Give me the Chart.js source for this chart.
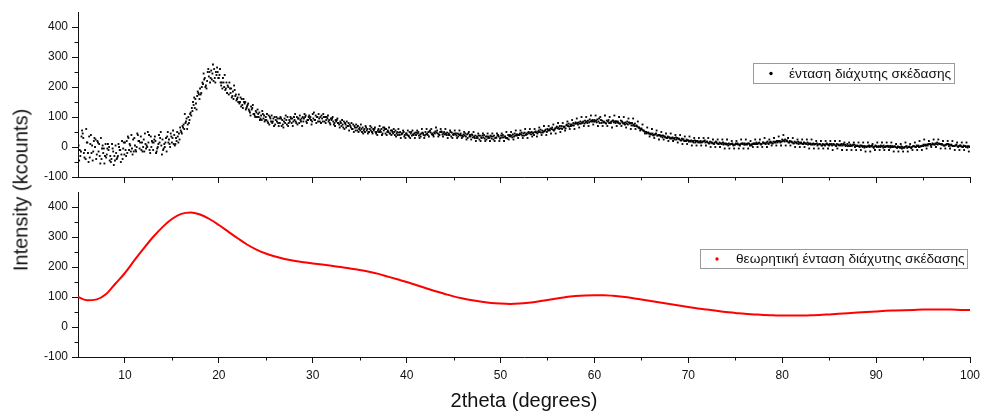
<!DOCTYPE html>
<html>
<head>
<meta charset="utf-8">
<script src="https://cdn.jsdelivr.net/npm/chart.js@4.4.0/dist/chart.umd.min.js"></script>
<style>
html,body{margin:0;padding:0;background:#fff;}
#wrap{position:relative;width:981px;height:411px;overflow:hidden;font-family:"Liberation Sans",Arial,sans-serif;color:#111;}
#c1box{position:absolute;left:0;top:0;width:981px;height:192px;}
#c2box{position:absolute;left:0;top:185px;width:981px;height:226px;}
canvas{display:block;}
#ytitle{position:absolute;left:21px;top:190px;transform:translate(-50%,-50%) rotate(-90deg);font-size:20px;white-space:nowrap;}
#xtitle{position:absolute;left:524px;top:400px;transform:translate(-50%,-50%);font-size:20px;white-space:nowrap;}
</style>
</head>
<body>
<div id="wrap">
  <div id="c1box"><canvas id="c1" width="981" height="192"></canvas></div>
  <div id="c2box"><canvas id="c2" width="981" height="226"></canvas></div>
  <div id="ytitle">Intensity (kcounts)</div>
  <div id="xtitle">2theta (degrees)</div>
</div>
<script>
// ---------------- DATA ----------------
const seriesLabels = ["ένταση διάχυτης σκέδασης", "θεωρητική ένταση διάχυτης σκέδασης"];

// measured diffuse-scattering intensity (kcounts), four interleaved reads, step 0.25 each
const scanStep = 0.25;
const scanAStart = 5.0;
const scanA = [
 20,-30,45,-10, 15,-35,5,30, -25,10,-40,-5, -35,-10,-50,-15, 5,-30,-10,-40,
 15,-20,10,-5, 30,0,20,-10, 25,-5,15,35, -10,20,0,30, 25,0,35,10,
 15,40,20,45, 50,75,85,100, 115,150,160,185, 195,215,230,220, 250,225,260,240,
 230,205,215,195, 200,180,185,170, 165,150,140,145, 135,120,125,110, 115,100,105,95,
 100,80,95,85, 75,95,80,90, 95,75,90,80, 100,80,95,85, 85,105,90,100,
 110,90,100,85, 95,85,100,90, 90,75,85,80, 80,65,75,70, 70,60,65,55,
 65,50,60,55, 50,65,55,45, 60,50,65,45, 55,45,50,40, 50,40,45,35,
 45,35,50,40, 40,50,35,45, 50,40,55,45, 45,55,40,50, 50,40,45,35,
 40,45,35,45, 35,45,30,40, 40,30,35,25, 30,40,25,35, 35,25,30,40,
 30,40,35,28, 40,32,45,38, 40,48,38,45, 50,42,48,52, 50,58,48,55,
 60,55,65,58, 68,60,70,65, 72,78,70,80, 82,75,85,80, 88,80,92,85,
 90,82,95,80, 85,78,90,80, 88,80,85,78, 82,75,85,78, 80,70,72,65,
 62,55,50,48, 45,40,42,38, 38,32,35,30, 32,28,30,25, 28,22,25,20,
 22,18,20,15, 20,15,18,22, 18,12,15,10, 15,10,12,8, 12,5,10,8,
 8,12,5,10, 12,8,10,5, 10,15,12,8, 15,10,12,18, 12,18,15,20,
 25,18,22,15, 18,12,15,10, 15,10,12,8, 12,8,10,5, 10,5,8,12,
 5,10,8,3, 8,5,10,3, 3,8,5,0, 5,0,3,-2, 0,5,2,-3,
 3,0,5,-2, 0,4,-2,3, 2,-3,0,-5, -2,3,0,-4, 3,0,5,2,
 3,8,5,10, 12,8,15,10, 10,5,8,3, 8,3,5,0, 5,0,3,-2,
 2
];

const scanBStart = 5.125;
const scanB = [
 -45,35,-20,60, -50,40,-15,25, 15,-55,5,-30, -5,-45,10,-30, -40,0,-25,15,
 -30,30,-15,25, -10,40,15,-15, 45,0,-10,20, 25,-15,40,5, -5,30,15,45,
 55,10,35,65, 70,110,60,90, 130,165,125,175, 180,245,205,260, 230,275,215,250,
 260,195,240,180, 215,165,205,155, 175,135,160,125, 145,105,140,100, 125,90,120,85,
 110,75,105,70, 100,70,95,65, 105,70,100,70, 110,75,105,70, 110,80,105,75,
 115,80,110,80, 110,80,105,75, 100,70,95,65, 90,60,85,55, 80,50,75,50,
 75,45,70,45, 70,45,65,40, 70,40,65,40, 65,40,60,35, 60,30,55,30,
 55,30,55,30, 55,30,60,30, 60,35,60,35, 65,35,60,35, 60,30,55,30,
 55,30,55,30, 50,25,50,25, 50,20,45,20, 45,20,45,20, 45,20,45,20,
 45,20,50,25, 50,25,55,30, 55,30,60,30, 60,35,60,35, 65,40,70,40,
 70,45,75,45, 80,50,80,55, 85,60,90,60, 95,65,100,70, 100,70,105,75,
 105,70,100,70, 105,70,100,65, 105,70,100,70, 100,65,95,60, 95,60,85,55,
 75,45,65,35, 60,30,55,25, 50,25,45,20, 45,20,40,15, 40,10,35,10,
 35,5,30,5, 30,5,30,5, 30,0,25,0, 25,0,25,-5, 25,-5,20,-5,
 20,-5,25,-5, 25,-5,20,0, 25,0,25,0, 30,0,25,5, 30,5,35,5,
 40,5,30,5, 30,0,25,0, 25,0,25,-5, 25,-5,20,-5, 20,-5,20,-5,
 20,-10,20,-5, 20,-10,15,-10, 15,-10,15,-10, 15,-10,15,-15, 15,-15,10,-10,
 15,-10,15,-10, 15,-10,15,-15, 10,-15,10,-15, 15,-15,10,-10, 15,-10,20,-10,
 25,-5,20,0, 25,0,25,-5, 20,-5,20,-5, 20,-10,15,-10, 15,-10,15,-15
];

const scanCStart = 5.0625;
const scanC = [
 5,-15,30,-40, -20,10,-45,0, 20,-30,-5,-55, -25,0,-40,-60, -20,10,-50,-5,
 -10,35,5,-25, 5,45,-5,15, -15,5,40,0, 15,-20,10,50, -10,15,50,0,
 30,5,50,25, 45,60,95,80, 105,140,145,180, 175,210,200,250, 215,245,230,265,
 240,215,200,215, 175,195,160,175, 150,165,130,150, 140,115,130,105, 100,115,90,105,
 90,105,85,95, 90,80,100,75, 80,100,85,95, 90,100,80,95, 95,85,100,90,
 95,105,85,100, 85,100,95,80, 95,80,90,75, 70,85,65,80, 65,75,55,70,
 55,65,50,60, 60,50,60,50, 50,60,55,60, 50,55,45,55, 40,50,45,40,
 40,50,38,45, 48,38,45,40, 42,50,48,40, 52,45,50,42, 42,48,40,48,
 45,38,42,38, 42,35,45,35, 32,38,30,38, 38,28,35,30, 28,38,32,35,
 38,32,30,40, 35,42,38,42, 45,38,48,42, 45,50,40,48, 55,48,52,58,
 55,62,58,62, 62,70,60,68, 75,68,75,72, 78,82,78,85, 82,88,85,90,
 85,92,80,88, 82,88,80,85, 82,86,80,88, 78,82,75,80, 72,78,68,62,
 58,52,45,45, 42,38,45,40, 35,38,32,35, 28,32,25,30, 25,28,20,25,
 18,22,15,20, 15,20,18,15, 15,18,12,15, 12,15,10,12, 8,12,10,5,
 12,8,10,12, 8,12,5,10, 12,10,15,10, 12,15,10,15, 18,15,20,15,
 20,25,18,20, 15,18,12,15, 12,15,10,12, 8,12,10,8, 8,10,5,8,
 10,5,8,10, 5,10,8,5, 5,3,8,5, 3,5,0,3, 3,0,5,2,
 0,3,2,5, 3,0,4,0, 0,2,-3,0, 0,-3,2,0, 2,5,0,3,
 8,5,10,5, 10,12,8,10, 8,5,10,8, 5,3,8,3, 2,5,0,3
];

const scanDStart = 5.1875;
const scanD = [
 -10,55,-35,15, 35,-20,20,-40, -15,30,-20,10, 10,-30,-5,-45, -35,-10,20,-25,
 20,-10,40,-15, -15,20,35,0, 10,50,-20,15, 35,-5,15,-25, 10,-15,25,35,
 10,30,15,55, 65,80,75,110, 120,130,170,160, 200,225,195,235, 255,220,250,230,
 215,230,190,205, 195,170,190,160, 145,160,150,130, 125,135,110,120, 110,95,110,90,
 85,100,80,100, 85,95,70,85, 90,80,95,85, 85,95,90,100, 100,90,95,85,
 90,100,95,105, 100,90,85,95, 85,90,80,85, 75,80,70,75, 60,70,65,60,
 60,55,65,50, 55,60,50,55, 55,45,60,50, 45,55,50,45, 48,42,50,45,
 38,45,42,48, 45,42,48,38, 45,52,42,48, 48,42,52,45, 45,40,50,42,
 42,45,40,38, 38,42,35,42, 35,30,38,32, 32,35,30,38, 35,30,38,28,
 32,35,30,36, 38,35,42,40, 42,45,40,48, 48,45,50,45, 50,55,52,50,
 58,60,55,65, 65,62,68,62, 70,75,72,78, 80,78,82,78, 85,82,88,85,
 88,85,90,82, 80,85,82,88, 85,82,78,85, 80,78,82,72, 75,70,65,60,
 55,50,48,42, 45,42,38,40, 38,35,30,32, 30,28,32,28, 22,25,20,22,
 20,18,22,18, 18,15,20,18, 12,15,12,18, 10,12,15,10, 10,8,12,8,
 10,8,12,8, 10,12,8,12, 10,12,10,15, 12,18,15,12, 15,20,18,18,
 22,20,15,18, 12,15,18,12, 10,12,15,10, 10,8,12,10, 5,8,10,8,
 8,10,5,8, 8,5,8,10, 3,5,8,3, 2,5,3,0, 2,3,0,5,
 2,0,3,0, 2,3,0,2, -2,0,2,-3, 2,0,-2,3, 0,3,2,5,
 5,8,10,8, 8,10,12,8, 5,8,10,5, 3,5,2,5, 0,3,2,0
];

// theoretical diffuse-scattering intensity, 2theta 5..100 step 1
const theoryX = [5,6,7,8,9,10,11,12,13,14,15,16,17,18,19,20,21,22,23,24,25,26,27,28,29,30,31,32,33,34,35,36,37,38,39,40,41,42,43,44,45,46,47,48,49,50,51,52,53,54,55,56,57,58,59,60,61,62,63,64,65,66,67,68,69,70,71,72,73,74,75,76,77,78,79,80,81,82,83,84,85,86,87,88,89,90,91,92,93,94,95,96,97,98,99,100];
const theoryY = [100,89,92,110,145,180,222,262,300,333,360,377,382,375,360,340,318,296,275,258,245,235,227,221,216,212,208,204,200,195,190,184,177,168,159,150,140,130,120,111,102,95,89,84,80,78,77,78,81,85,90,95,100,103,105,106,106,104,101,97,92,87,82,77,72,67,62,58,54,50,47,44,42,40,39,38,38,38,39,40,42,44,46,48,50,52,54,55,56,57,58,58,58,58,57,57];

// axes
const xMin = 5, xMax = 100, xMajorStep = 10;
const xMinorTicks = [15,25,35,45,55,65,75,85,95];
const yMin = -100, yMax = 450, yMajorStep = 100;
const yMinorTicks = [-50,50,150,250,350];

// ---------------- CHART ----------------
const FONT = '"Liberation Sans", Arial, sans-serif';
const AXIS = '#111';

const minorTicks = {
  id: 'minorTicks',
  afterDraw(chart, args, opts) {
    const ctx = chart.ctx, xs = chart.scales.x, ys = chart.scales.y;
    ctx.save();
    ctx.strokeStyle = AXIS; ctx.lineWidth = 1;
    ctx.beginPath();
    for (const v of opts.x) { const px = Math.round(xs.getPixelForValue(v)) + 0.5; ctx.moveTo(px, xs.top); ctx.lineTo(px, xs.top + opts.len); }
    for (const v of opts.y) { const py = Math.round(ys.getPixelForValue(v)) + 0.5; ctx.moveTo(ys.right, py); ctx.lineTo(ys.right - opts.len, py); }
    ctx.stroke();
    ctx.restore();
  }
};

const boxLegend = {
  id: 'boxLegend',
  afterDraw(chart, args, o) {
    const ctx = chart.ctx, ds = chart.data.datasets[0];
    ctx.save();
    ctx.font = o.fontSize + 'px ' + FONT;
    const tw = ctx.measureText(ds.label).width;
    const w = Math.round(o.textOffset + tw + o.padRight);
    ctx.fillStyle = '#fff'; ctx.fillRect(o.left, o.top, w, o.height);
    ctx.strokeStyle = '#9a9a9a'; ctx.lineWidth = 1;
    ctx.strokeRect(o.left + 0.5, o.top + 0.5, w, o.height);
    ctx.fillStyle = o.dotColor;
    ctx.beginPath(); ctx.arc(o.left + o.dotOffset, o.top + o.height / 2 + 0.5, 1.7, 0, Math.PI * 2); ctx.fill();
    ctx.fillStyle = '#111'; ctx.textBaseline = 'middle'; ctx.textAlign = 'left';
    ctx.fillText(ds.label, o.left + o.textOffset, o.top + o.height / 2 + 1);
    ctx.restore();
  }
};

function scales(xHeight, showXLabels) {
  return {
    x: {
      type: 'linear', min: xMin, max: xMax,
      ticks: { stepSize: xMajorStep, includeBounds: false, display: showXLabels, color: '#111', font: { family: FONT, size: 12 }, padding: 5, maxRotation: 0 },
      grid: { drawOnChartArea: false, drawTicks: true, tickLength: 6, color: AXIS, tickColor: AXIS, lineWidth: 1 },
      border: { display: true, color: AXIS, width: 1 },
      afterFit(s) { s.height = xHeight; s.paddingLeft = 0; s.paddingRight = 0; }
    },
    y: {
      type: 'linear', min: yMin, max: yMax,
      ticks: { stepSize: yMajorStep, includeBounds: false, color: '#111', font: { family: FONT, size: 12 }, padding: 4 },
      grid: { drawOnChartArea: false, drawTicks: true, tickLength: 6, color: AXIS, tickColor: AXIS, lineWidth: 1 },
      border: { display: true, color: AXIS, width: 1 },
      afterFit(s) { s.width = 78; s.paddingTop = 0; s.paddingBottom = 0; }
    }
  };
}

function toPoints(values, start) { return values.map((v, i) => ({ x: start + i * scanStep, y: v })); }
const measured = [].concat(toPoints(scanA, scanAStart), toPoints(scanB, scanBStart), toPoints(scanC, scanCStart), toPoints(scanD, scanDStart));
const theory = theoryX.map((x, i) => ({ x: x, y: theoryY[i] }));

new Chart(document.getElementById('c1'), {
  type: 'scatter',
  data: { datasets: [
    { label: seriesLabels[0], data: measured, pointStyle: 'rect', pointRadius: 1.3, borderWidth: 0, backgroundColor: '#000', pointHoverRadius: 0 }
  ]},
  options: {
    responsive: false, animation: false, devicePixelRatio: 1,
    layout: { padding: { left: 0, right: 11, top: 12, bottom: 0 } },
    scales: scales(15, false),
    plugins: {
      legend: { display: false }, tooltip: { enabled: false },
      minorTicks: { x: xMinorTicks, y: yMinorTicks, len: 3.5 },
      boxLegend: { left: 753, top: 63, height: 20, dotOffset: 18, textOffset: 36, padRight: 3, fontSize: 13.7, dotColor: '#000' }
    }
  },
  plugins: [minorTicks, boxLegend]
});

new Chart(document.getElementById('c2'), {
  type: 'line',
  data: { datasets: [
    { label: seriesLabels[1], data: theory, borderColor: '#ff0000', borderWidth: 2, pointRadius: 0, cubicInterpolationMode: 'monotone', fill: false }
  ]},
  options: {
    responsive: false, animation: false, devicePixelRatio: 1,
    layout: { padding: { left: 0, right: 11, top: 7, bottom: 0 } },
    scales: scales(54, true),
    plugins: {
      legend: { display: false }, tooltip: { enabled: false },
      minorTicks: { x: xMinorTicks, y: yMinorTicks, len: 3.5 },
      boxLegend: { left: 700, top: 64, height: 19, dotOffset: 17, textOffset: 36, padRight: 2, fontSize: 13.7, dotColor: '#ff0000' }
    }
  },
  plugins: [minorTicks, boxLegend]
});
</script>
</body>
</html>
